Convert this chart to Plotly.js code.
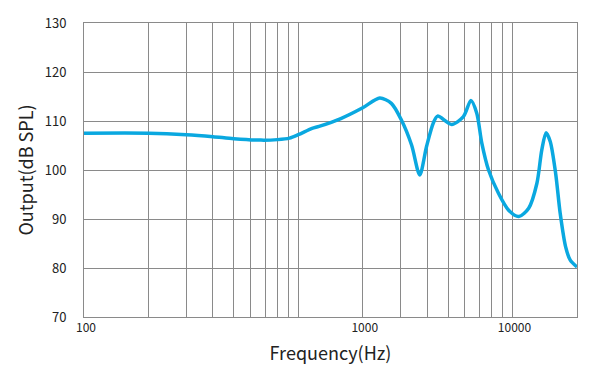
<!DOCTYPE html>
<html>
<head>
<meta charset="utf-8">
<script src="https://cdn.plot.ly/plotly-3.0.1.min.js"></script>
<style>html,body{margin:0;padding:0;background:#fff}#chart{width:609px;height:390px}</style>
</head>
<body>
<div id="chart"></div>
<script>
var frequency = [100,200,300,400,500,670,800,910,1000,1160,1250,1580,2000,2400,2720,3030,3380,3690,3970,4270,4470,5200,5900,6400,6810,7190,7730,8610,9590,10700,11900,13000,13700,14350,15000,15900,16700,17700,18600,20000];
var outputSPL = [107.5,107.5,107.2,106.8,106.4,106.1,106.2,106.5,107.2,108.5,108.9,110.5,112.7,114.7,113.6,110.2,105.1,99.0,104.8,109.6,111.0,109.3,110.9,114.2,111.6,105.5,100.0,95.2,91.8,90.5,92.2,97.3,104.1,107.6,105.8,99.3,91.1,84.3,81.6,80.2];

var xGridValues = [100,200,300,400,500,600,700,800,900,1000,2000,3000,4000,5000,6000,7000,8000,9000,10000,20000];
var xLabeled = {100:'100', 2000:'1000', 10000:'10000'};
var xTickText = xGridValues.map(function(v){ return xLabeled[v] || ''; });
var yTickValues = [70,80,90,100,110,120,130];

var trace = {
  x: frequency, y: outputSPL, type: 'scatter', mode: 'lines',
  line: {color: '#0aa8e0', width: 3.5, shape: 'spline', smoothing: 0.8},
  hoverinfo: 'skip'
};
var layout = {
  width: 609, height: 390,
  margin: {l: 84, r: 32, t: 23, b: 73},
  paper_bgcolor: '#fff', plot_bgcolor: '#fff',
  showlegend: false,
  font: {family: 'Noto Sans CJK SC, Noto Sans, sans-serif', color: '#222'},
  xaxis: {
    type: 'log', range: [2, Math.log10(20000)],
    tickmode: 'array', tickvals: xGridValues, ticktext: xTickText,
    showgrid: true, gridcolor: '#8a8a8a', gridwidth: 1,
    showline: true, linecolor: '#8a8a8a', linewidth: 1, mirror: true,
    zeroline: false, ticks: '', tickfont: {size: 12, color: '#222'},
    ticklabelshift: 2,
    title: {text: 'Frequency(Hz)', font: {size: 18, color: '#222'}, standoff: 12}
  },
  yaxis: {
    range: [70, 130], tickmode: 'array', tickvals: yTickValues,
    showgrid: true, gridcolor: '#8a8a8a', gridwidth: 1,
    showline: true, linecolor: '#8a8a8a', linewidth: 1, mirror: true,
    zeroline: false, ticks: '', tickfont: {size: 13, color: '#222'},
    ticklabelstandoff: 14,
    title: {text: 'Output(dB SPL)', font: {size: 18, color: '#222'}, standoff: 6}
  }
};
Plotly.newPlot('chart', [trace], layout, {staticPlot: true, displayModeBar: false});
</script>
</body>
</html>
